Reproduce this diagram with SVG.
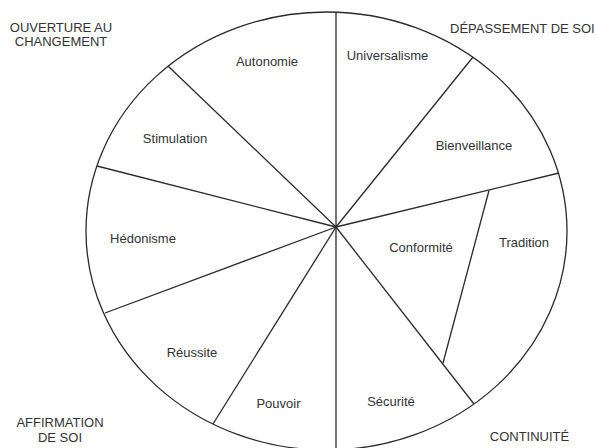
<svg xmlns="http://www.w3.org/2000/svg" width="596" height="448" viewBox="0 0 596 448">
<style>
.ln{stroke:#2a2a2a;stroke-width:1.3;fill:none}
.lb{font-family:"Liberation Sans",Arial,sans-serif;font-size:13px;fill:#333;text-anchor:middle}
</style>
<rect width="596" height="448" fill="#fff"/>
<g id="connectors">
<ellipse class="ln" cx="326.5" cy="231" rx="240.5" ry="219"/>
<line class="ln" x1="336" y1="12" x2="336" y2="448"/>
<line class="ln" x1="336" y1="227" x2="168" y2="66"/>
<line class="ln" x1="336" y1="227" x2="97" y2="166"/>
<line class="ln" x1="336" y1="227" x2="105" y2="313"/>
<line class="ln" x1="336" y1="227" x2="213" y2="424"/>
<line class="ln" x1="336" y1="227" x2="474" y2="404"/>
<line class="ln" x1="336" y1="227" x2="559" y2="173"/>
<line class="ln" x1="336" y1="227" x2="473" y2="57"/>
<line class="ln" x1="443" y1="363" x2="489" y2="190.5"/>
</g>
<g id="group-ouverture"><text class="lb" x="61" y="32">OUVERTURE AU</text><text class="lb" x="61" y="46">CHANGEMENT</text></g>
<g id="group-depassement"><text class="lb" x="450" y="33" text-anchor="start" style="text-anchor:start">DÉPASSEMENT DE SOI</text></g>
<g id="group-affirmation"><text class="lb" x="60" y="427">AFFIRMATION</text><text class="lb" x="60" y="442">DE SOI</text></g>
<g id="group-continuite"><text class="lb" x="529.5" y="441">CONTINUITÉ</text></g>
<g id="autonomie"><text class="lb" x="267" y="66">Autonomie</text></g>
<g id="universalisme"><text class="lb" x="387.5" y="60">Universalisme</text></g>
<g id="stimulation"><text class="lb" x="175" y="143">Stimulation</text></g>
<g id="bienveillance"><text class="lb" x="474" y="150">Bienveillance</text></g>
<g id="hedonisme"><text class="lb" x="143" y="243">Hédonisme</text></g>
<g id="conformite"><text class="lb" x="421" y="252">Conformité</text></g>
<g id="tradition"><text class="lb" x="524" y="247">Tradition</text></g>
<g id="reussite"><text class="lb" x="192" y="357">Réussite</text></g>
<g id="pouvoir"><text class="lb" x="278.5" y="408">Pouvoir</text></g>
<g id="securite"><text class="lb" x="391" y="406">Sécurité</text></g>
</svg>
